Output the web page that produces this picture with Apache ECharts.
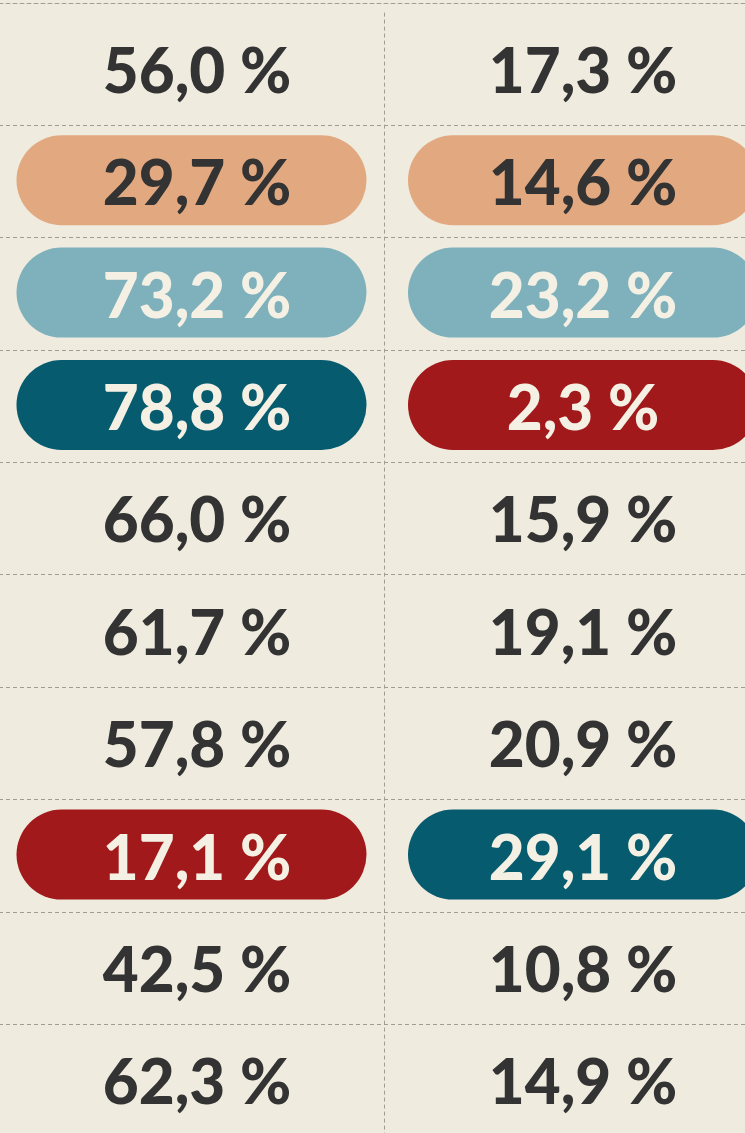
<!DOCTYPE html>
<html>
<head>
<meta charset="utf-8">
<title>Percent table</title>
<script src="https://cdn.jsdelivr.net/npm/echarts@6/dist/echarts.min.js"></script>
<style>
  html, body { margin: 0; padding: 0; background: #efebde; }
  #chart { width: 745px; height: 1133px; }
</style>
</head>
<body>
<div id="chart"></div>
<script>
// rows of the table, top to bottom
const rows = ['r1', 'r2', 'r3', 'r4', 'r5', 'r6', 'r7', 'r8', 'r9', 'r10'];
const columns = ['left', 'right'];

const leftValues = [56.0, 29.7, 73.2, 78.8, 66.0, 61.7, 57.8, 17.1, 42.5, 62.3];
const rightValues = [17.3, 14.6, 23.2, 2.3, 15.9, 19.1, 20.9, 29.1, 10.8, 14.9];

// which cells get a coloured pill (null = plain)
const leftMarks = [null, 'peach', 'blue', 'teal', null, null, null, 'red', null, null];
const rightMarks = [null, 'peach', 'blue', 'red', null, null, null, 'teal', null, null];

const pillColors = {
  peach: { fill: '#e2a981', text: '#333333' },
  blue: { fill: '#7fb1bc', text: '#f4f0e4' },
  teal: { fill: '#065b6f', text: '#f4f0e4' },
  red: { fill: '#a2191b', text: '#f4f0e4' }
};

const fmt = v => v.toFixed(1).replace('.', ',') + ' %';

const cells = [];
leftValues.forEach((v, i) => cells.push({ col: 0, row: i, value: v, mark: leftMarks[i] }));
rightValues.forEach((v, i) => cells.push({ col: 1, row: i, value: v, mark: rightMarks[i] }));

const chart = echarts.init(document.getElementById('chart'));

const dashed = { color: '#a19d92', width: 1, type: [4, 3] };

const option = {
  backgroundColor: '#efebde',
  animation: false,
  grid: { left: -1, top: 12.6, width: 770, height: 1124, outerBoundsMode: 'none', containLabel: false },
  xAxis: {
    type: 'category',
    data: columns,
    position: 'top',
    offset: 9.6,
    axisLine: { show: true, lineStyle: dashed },
    axisTick: { show: false },
    axisLabel: { show: false },
    splitLine: { show: true, lineStyle: dashed }
  },
  yAxis: {
    type: 'category',
    data: rows,
    inverse: true,
    axisLine: { show: false },
    axisTick: { show: false },
    axisLabel: { show: false },
    splitLine: {
      show: true,
      interval: (index) => index !== 0,
      lineStyle: dashed
    }
  },
  series: [{
    type: 'custom',
    data: cells.map(c => [c.col, c.row, c.value]),
    renderItem: (params, api) => {
      const cell = cells[params.dataIndex];
      const pt = api.coord([api.value(0), api.value(1)]);
      const shift = cell.col === 1 ? 6.5 : 0;
      const textShift = cell.col === 1 ? 6.5 : 5.5;
      const children = [];
      let textColor = '#333333';
      if (cell.mark) {
        const c = pillColors[cell.mark];
        textColor = c.text;
        children.push({
          type: 'rect',
          shape: { x: pt[0] - 175 + shift, y: pt[1] - 46, width: 350, height: 90, r: 45 },
          style: { fill: c.fill }
        });
      }
      children.push({
        type: 'text',
        x: pt[0] + textShift,
        y: pt[1] + 4,
        style: {
          text: fmt(cell.value),
          fill: textColor,
          align: 'center',
          verticalAlign: 'middle',
          font: '900 62px Lato, sans-serif'
        }
      });
      return { type: 'group', children: children };
    }
  }]
};

chart.setOption(option);
</script>
</body>
</html>
